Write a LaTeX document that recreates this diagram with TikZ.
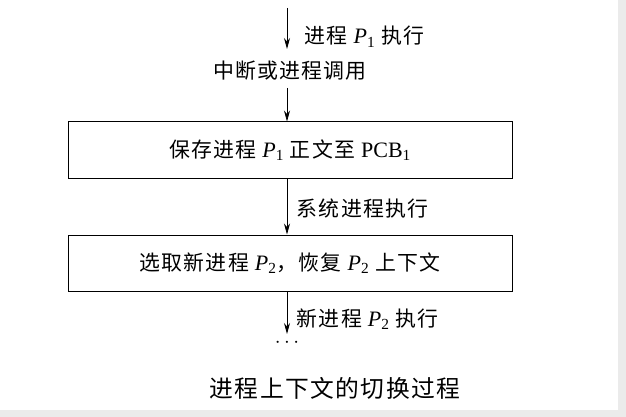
\documentclass[tikz,border=0pt]{standalone}
\usepackage{fontspec}
\setmainfont{Liberation Serif}
\newfontfamily\cjk{Noto Sans CJK SC}[Scale=0.95,LetterSpace=6]
\newcommand{\lat}[1]{{\rmfamily #1}}
\usetikzlibrary{positioning,arrows.meta}
\begin{document}
\begin{tikzpicture}[x=1pt,y=-1pt,
    every node/.style = {font=\cjk\fontsize{22}{25}\selectfont},
    stepbox/.style    = {draw, line width=1pt, minimum width=444pt,
                         minimum height=56pt, inner sep=0pt},
    flow/.style       = {-{Stealth[length=11pt,width=6pt]}, line width=0.8pt},
    side/.style       = {anchor=west}]
  \useasboundingbox (0,0) rectangle (626,417);
  \fill[black!8] (618,0) rectangle (626,417) (0,410) rectangle (626,417);

  \coordinate (top) at (287,8);
  \node (intr) at (290,71) {中断或进程调用};
  \node[stepbox] (save) at (290,150) {保存进程 \lat{\textit{P}\textsubscript{1}} 正文至 \lat{PCB\textsubscript{1}}};
  \node[stepbox] (pick) at (290,263) {选取新进程 \lat{\textit{P}\textsubscript{2}}，恢复 \lat{\textit{P}\textsubscript{2}} 上下文};
  \node (dots) at (287,343) {\lat{$\cdots$}};
  \node (cap) at (335,388) {\fontsize{25}{28}\selectfont 进程上下文的切换过程};

  \draw[flow] (top) -- (287,49) node[side, pos=0.7, xshift=14pt] {进程 \lat{\textit{P}\textsubscript{1}} 执行};
  \draw[flow] (287,88) -- (save.north -| top);
  \draw[flow] (save.south -| top) -- node[side, xshift=6pt, yshift=-2pt] {系统进程执行} (pick.north -| top);
  \draw[flow] (pick.south -| top) -- node[side, xshift=6pt, yshift=-6pt] {新进程 \lat{\textit{P}\textsubscript{2}} 执行} (287,334);
\end{tikzpicture}
\end{document}
